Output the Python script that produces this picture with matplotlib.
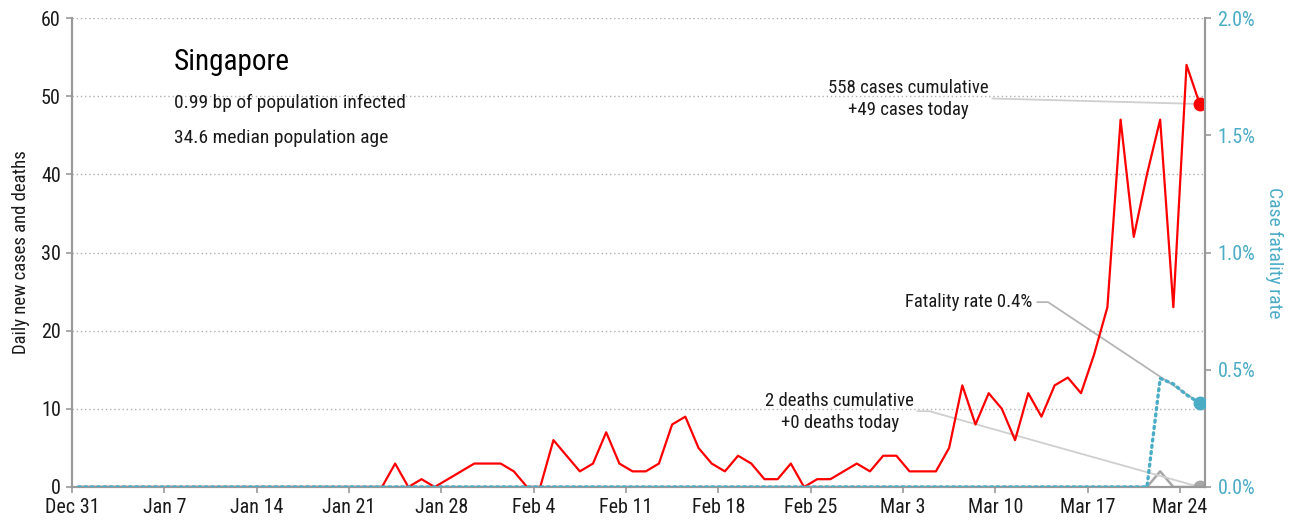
import numpy as np
import pandas as pd
import matplotlib
matplotlib.use("Agg")
from matplotlib import pyplot as plt
from matplotlib.ticker import FuncFormatter

# ======== data ========
START = "2019-12-31 12:00"
# daily new cases, Dec 31 .. Mar 25 (86 days)
cases = [0] * 23 + [
    0, 3, 0, 1, 0, 1, 2, 3, 3, 3, 2, 0, 0,
    6, 4, 2, 3, 7, 3, 2, 2, 3, 8, 9, 5,
    3, 2, 4, 3, 1, 1, 3, 0, 1, 1, 2, 3, 2,
    4, 4, 2, 2, 2, 5, 13, 8, 12, 10, 6, 12, 9,
    13, 14, 12, 17, 23, 47, 32, 40, 47, 23, 54, 49,
]
deaths = [0] * 82 + [2, 0, 0, 0]
tick_dates = pd.date_range("2019-12-31", "2020-03-24", freq="7D")
tick_labels = ["Dec 31", "Jan 7", "Jan 14", "Jan 21", "Jan 28", "Feb 4", "Feb 11",
               "Feb 18", "Feb 25", "Mar 3", "Mar 10", "Mar 17", "Mar 24"]
country = "Singapore"
info_lines = ["0.99 bp of population infected", "34.6 median population age"]
# ======================

RED = "#ff0000"
BLUE = "#4bacc6"
GRAY = "#a6a6a6"
LEADER = "#cfcfcf"
TXT = "#1a1a1a"

plt.rcParams["font.family"] = ["Roboto Condensed", "DejaVu Sans"]

dates = pd.date_range(START, periods=len(cases), freq="D")
cases = np.array(cases)
deaths = np.array(deaths)
cum_cases = np.cumsum(cases)
cum_deaths = np.cumsum(deaths)
# case fatality rate (%) = cumulative deaths / cumulative cases
rate = np.where(cum_cases > 0, cum_deaths / np.maximum(cum_cases, 1) * 100, 0.0)

fig = plt.figure(figsize=(12.97, 5.26), dpi=100)
ax = fig.add_axes([72 / 1297, 1 - 487 / 526, (1205 - 72) / 1297, (487 - 18) / 526])
ax2 = ax.twinx()

# --- series ---
ax.plot(dates, cases, color=RED, lw=1.6, zorder=3)
ax.plot(dates, deaths, color=GRAY, lw=1.8, zorder=2)
ax.plot(dates[-1], cases[-1], "o", color=RED, ms=9, zorder=4)
ax.plot(dates[-1], deaths[-1], "o", color=GRAY, ms=9, zorder=4)
ax2.plot(dates, rate, color=BLUE, lw=2.4, linestyle=(0, (0.6, 1.3)),
         dash_capstyle="round", zorder=3)
ax2.plot(dates[-1], rate[-1], "o", color=BLUE, ms=9, zorder=4)

# --- axes ---
x0 = pd.Timestamp("2019-12-31")
ax.set_xlim(x0, x0 + pd.Timedelta(days=85.9))
ax.set_ylim(0, 60)
ax2.set_ylim(0, 2.0)
ax.set_xticks(tick_dates)
ax.set_xticklabels(tick_labels)
ax.set_yticks(range(0, 61, 10))
ax2.set_yticks([0, 0.5, 1.0, 1.5, 2.0])
ax2.yaxis.set_major_formatter(FuncFormatter(lambda v, p: f"{v:.1f}%"))

for a in (ax, ax2):
    a.spines["top"].set_visible(False)
    for s in ("left", "right", "bottom"):
        a.spines[s].set_color("#999999")
        a.spines[s].set_linewidth(1.5)
ax.tick_params(axis="both", colors="#999999", labelcolor=TXT,
               labelsize=14.5, length=4, width=1.2, pad=4)
ax2.tick_params(axis="y", colors="#999999", labelcolor=BLUE,
                labelsize=14.5, length=4, width=1.2, pad=5)
ax.yaxis.grid(True, linestyle=(0, (1, 2)), color="#b0b0b0", lw=1)
ax.set_axisbelow(True)

ax.set_ylabel("Daily new cases and deaths", fontsize=13.5, color=TXT, labelpad=8)
ax2.set_ylabel("Case fatality rate", fontsize=14, color=BLUE, rotation=270, labelpad=20)

# --- header text ---
ax.text(0.09, 0.906, country, transform=ax.transAxes, fontsize=21,
        va="center", ha="left", color="#000000")
ax.text(0.09, 0.819, info_lines[0], transform=ax.transAxes, fontsize=14,
        va="center", ha="left", color=TXT)
ax.text(0.09, 0.744, info_lines[1], transform=ax.transAxes, fontsize=14,
        va="center", ha="left", color=TXT)


def day(d):
    return x0 + pd.Timedelta(days=d)


# --- annotations ---
ax.text(day(63.4), 49.6, f"{cum_cases[-1]} cases cumulative\n+{cases[-1]} cases today",
        ha="center", va="center", fontsize=13.5, linespacing=1.3, color=TXT)
ax.plot([day(69.8), dates[-1]], [49.7, cases[-1]], color=LEADER, lw=1.3, zorder=2)

ax.text(day(72.8), 23.7, f"Fatality rate {rate[-1]:.1f}%",
        ha="right", va="center", fontsize=13.5, color=TXT)
ax.plot([day(73.2), day(74.0), dates[-1]], [23.65, 23.65, rate[-1] * 30],
        color="#b5b5b5", lw=1.3, zorder=2)

ax.text(day(58.2), 9.55, f"{cum_deaths[-1]} deaths cumulative\n+{deaths[-1]} deaths today",
        ha="center", va="center", fontsize=13.5, linespacing=1.3, color=TXT)
ax.plot([day(64.1), day(65.0), dates[-1]], [9.7, 9.7, deaths[-1]],
        color=LEADER, lw=1.3, zorder=2)

fig.savefig("out.png", dpi=100)
